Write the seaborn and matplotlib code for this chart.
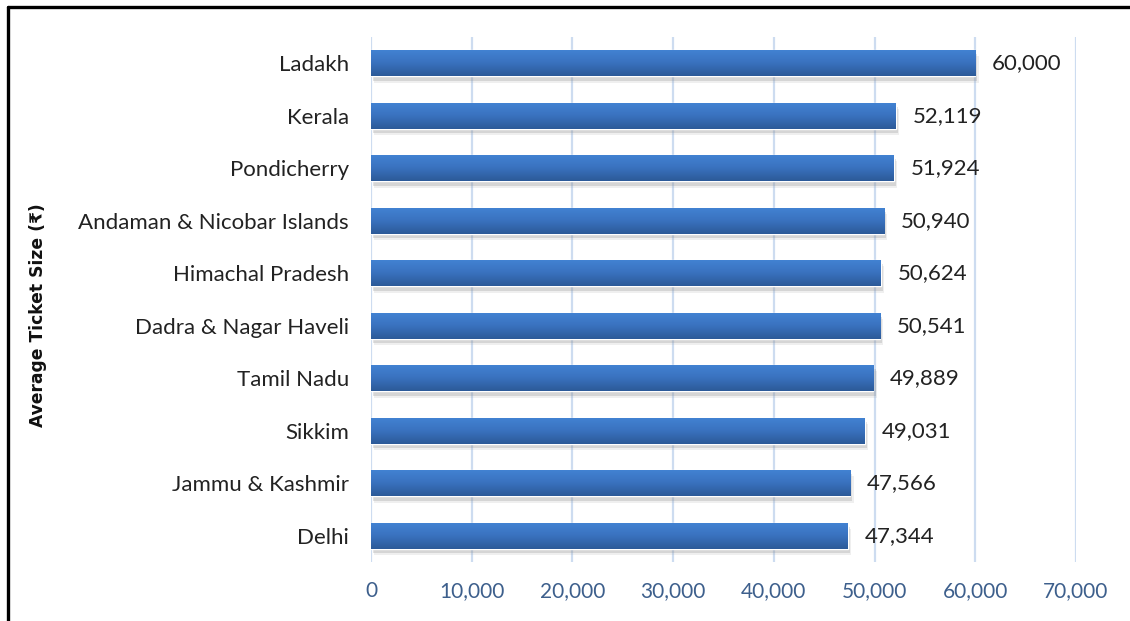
import numpy as np
import pandas as pd
import matplotlib
matplotlib.use("Agg")
import matplotlib.pyplot as plt
import matplotlib.patheffects as pe
from matplotlib.lines import Line2D
from matplotlib.colors import LinearSegmentedColormap
import seaborn as sns

states = ["Ladakh", "Kerala", "Pondicherry", "Andaman & Nicobar Islands",
          "Himachal Pradesh", "Dadra & Nagar Haveli", "Tamil Nadu", "Sikkim",
          "Jammu & Kashmir", "Delhi"]
ticket_size = [60000, 52119, 51924, 50940, 50624, 50541, 49889, 49031, 47566, 47344]
x_ticks = [0, 10000, 20000, 30000, 40000, 50000, 60000, 70000]

df = pd.DataFrame({"state": states, "value": ticket_size})

sns.set_theme(style="white")
plt.rcParams["font.family"] = ["Lato", "DejaVu Sans"]

fig = plt.figure(figsize=(11.3, 6.21), dpi=100)
ax = fig.add_axes([0.3283, 0.095, 0.9522 - 0.3283, 0.9404 - 0.095])

sns.barplot(data=df, x="value", y="state", orient="h", color="#3567b0",
            width=0.5, ax=ax, saturation=1)

ax.set_xlim(0, 70000)
ax.set_xticks(x_ticks)
ax.set_xticklabels([f"{t:,}" for t in x_ticks], color="#3d5f8c", fontsize=15)
ax.tick_params(axis="y", labelsize=16, labelcolor="#222222", length=0, pad=16)
ax.tick_params(axis="x", length=0, pad=14)
ax.grid(axis="x", color="#cddcf0", linewidth=1.6)
ax.set_axisbelow(True)
for s in ax.spines.values():
    s.set_visible(False)
ax.set_xlabel("")
ax.set_ylabel("")

# vertical gradient fill and soft shadow on each bar
cmap = LinearSegmentedColormap.from_list("barfill", ["#4283d3", "#3a72bf", "#2c5a98"])
grad = np.linspace(0, 1, 64).reshape(-1, 1)
for bar in ax.patches:
    bar.set_path_effects([
        pe.SimplePatchShadow(offset=(2.5, -4.5), shadow_rgbFace="#999999", alpha=0.15),
        pe.SimplePatchShadow(offset=(1.5, -3), shadow_rgbFace="#888888", alpha=0.25),
        pe.Normal()])
    x0, y0 = bar.get_x(), bar.get_y()
    w, h = bar.get_width(), bar.get_height()
    im = ax.imshow(grad, cmap=cmap, aspect="auto", extent=[x0, x0 + w, y0 + h, y0],
                   origin="upper", zorder=bar.get_zorder() + 0.1, interpolation="bicubic")
    im.set_clip_path(bar)

ax.set_xlim(0, 70000)
ax.set_ylim(len(states) - 0.5, -0.5)

ax.bar_label(ax.containers[0], labels=[f"{v:,}" for v in ticket_size],
             padding=12, fontsize=16, color="#222222")

fig.text(0.034, 0.493, "Average Ticket Size (₹)", rotation=90, ha="center", va="center",
         fontsize=12.3, fontweight="bold", color="#111111", family="DejaVu Sans")

# outer frame along the top and left edges
fig.add_artist(Line2D([0.0068, 0.0068], [0, 0.9887], transform=fig.transFigure,
                      color="black", linewidth=2.4))
fig.add_artist(Line2D([0.0068, 1.0], [0.9887, 0.9887], transform=fig.transFigure,
                      color="black", linewidth=2.4))

fig.savefig("out.png", dpi=100, facecolor="white")
